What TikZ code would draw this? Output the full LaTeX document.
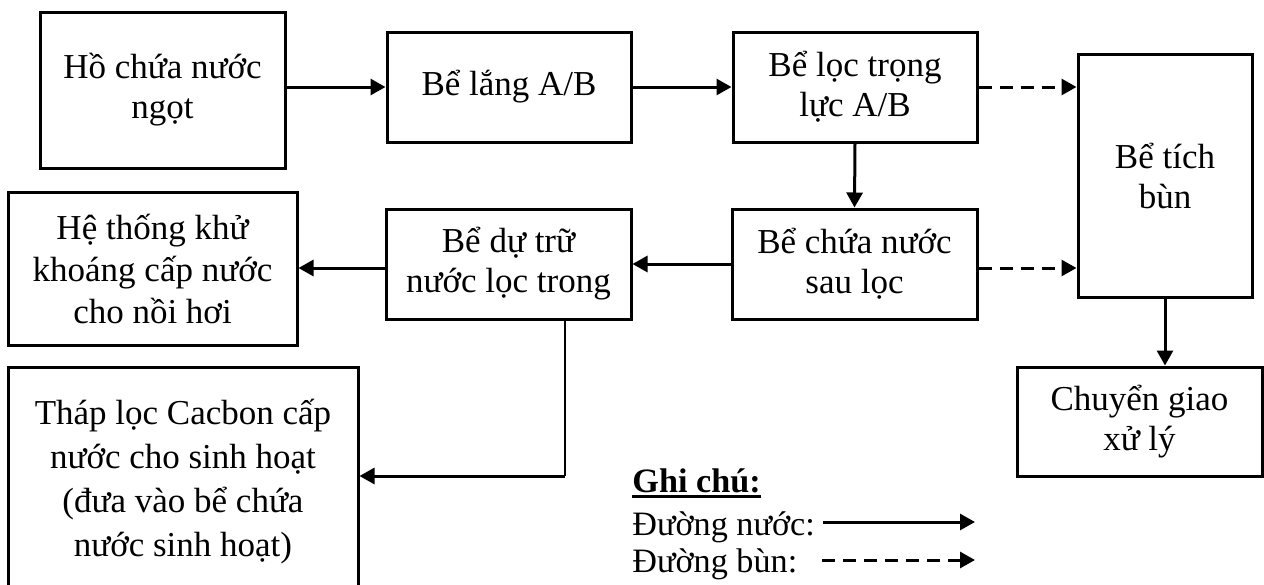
\documentclass[tikz,border=0pt]{standalone}
\usepackage{fontspec}
\setmainfont{Liberation Serif}
\usetikzlibrary{arrows.meta,calc}
\tikzset{
  box/.style={draw, line width=1.5pt, align=center, inner sep=0pt,
    font=\fontsize{17.5}{20}\selectfont},
  flow/.style={line width=1.5pt, -{Triangle[length=7.5pt,width=8pt]}},
  sludge/.style={flow, dash pattern=on 6.5pt off 4pt},
  thinline/.style={line width=0.6pt},
  legendtext/.style={anchor=base west, inner sep=0pt, font=\fontsize{17.1}{20}\selectfont},
}
\begin{document}
\begin{tikzpicture}[x=0.5pt,y=-0.5pt]
\useasboundingbox (0,0) rectangle (1264,584);
\node[box, minimum width=122.5pt, minimum height=78pt] (ho) at (162.5,90) {Hồ chứa nước\\ngọt};
\node[box, minimum width=122pt, minimum height=55pt] (lang) at (509,87) {Bể lắng A/B};
\node[box, minimum width=122pt, minimum height=55pt] (loc) at (855,87) {Bể lọc trọng\\lực A/B};
\node[box, minimum width=87pt, minimum height=121.5pt] (bun) at (1165,175.5) {Bể tích\\bùn};
\node[box, minimum width=122.5pt, minimum height=55pt] (chua) at (854.5,264) {Bể chứa nước\\sau lọc};
\node[box, minimum width=122.5pt, minimum height=55pt] (dutru) at (508.5,264) {Bể dự trữ\\nước lọc trong};
\node[box, minimum width=144.5pt, minimum height=76.5pt, font=\fontsize{17.5}{21}\selectfont] (heth) at (152.5,268.5) {Hệ thống khử\\khoáng cấp nước\\cho nồi hơi};
\node[box, minimum width=175pt, minimum height=115pt, font=\fontsize{17.5}{22}\selectfont] (thap) at (183,482) {Tháp lọc Cacbon cấp\\nước cho sinh hoạt\\(đưa vào bể chứa\\nước sinh hoạt)};
\node[box, minimum width=122.5pt, minimum height=54.5pt] (cg) at (1139.5,421.5) {Chuyển giao\\xử lý};

\draw[flow] (ho.east |- lang.west) -- (lang.west);
\draw[flow] (lang.east) -- (loc.west);
\draw[sludge] (loc.east) -- (loc.east -| bun.west);
\draw[flow] (loc.south) -- (chua.north);
\draw[sludge] ([yshift=-2pt]chua.east) -- ([yshift=-2pt]chua.east -| bun.west);
\draw[flow] (chua.west) -- (dutru.east);
\draw[flow] ([yshift=-2pt]dutru.west) -- ([yshift=-2pt]dutru.west -| heth.east);
\coordinate (bend) at (565,476);
\draw[thinline] (dutru.south -| bend) -- (bend);
\draw[flow] (bend) -- (bend -| thap.east);
\draw[flow] (bun.south) -- (bun.south |- cg.north);

\node[legendtext, font=\fontsize{17.1}{20}\selectfont\bfseries] (ghichu) at (632,492) {Ghi chú:};
\draw[line width=1.5pt] ([yshift=-2pt]ghichu.base west) -- ([yshift=-2pt]ghichu.base east);
\node[legendtext] (dn) at (632,535) {Đường nước:};
\node[legendtext] (db) at (632,572) {Đường bùn:};
\coordinate (dnA) at (823,522);
\coordinate (dnB) at (975,522);
\coordinate (dbA) at (822,560);
\coordinate (dbB) at (975,560);
\draw[flow] (dnA) -- (dnB);
\draw[sludge] (dbA) -- (dbB);
\end{tikzpicture}
\end{document}
